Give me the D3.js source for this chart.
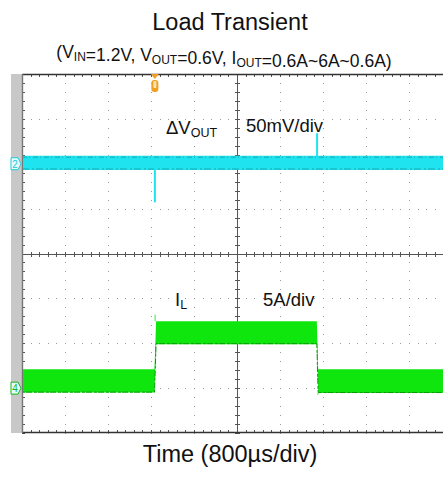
<!DOCTYPE html>
<html>
<head>
<meta charset="utf-8">
<script src="https://cdnjs.cloudflare.com/ajax/libs/d3/7.8.5/d3.min.js"></script>
<style>
  html, body { margin: 0; padding: 0; background: #fff; }
  svg { display: block; font-family: "Liberation Sans", Arial, sans-serif; }
</style>
</head>
<body>
<svg id="chart" width="443" height="478"></svg>
<script>
// Oscilloscope capture: load transient, 10 horizontal x 8 vertical divisions.
const timeDivMs = 0.8;             // 800 µs/div
const voltDivMv = 50;              // CH2: 50 mV/div
const currDivA = 5;                // CH4: 5 A/div
const ch2OffsetDiv = 2;            // CH2 ground marker position (div above centre)
const ch4OffsetDiv = -3;           // CH4 ground marker position

// ΔVOUT noise envelope (mV) and load-step spikes
const voutBandTime = [0, 2.465, 2.475, 8];
const voutBandHigh = [9, 9, 9, 9];
const voutBandLow = [-7, -7, -7, -7];
const voutSpikeTime = [2.472, 5.49];
const voutSpikePeak = [-43, 34];

// Inductor current envelope (A): 0.6 A -> 6 A -> 0.6 A
const ilBandTime = [0, 2.465, 2.495, 5.485, 5.51, 8];
const ilBandHigh = [2.1, 2.1, 7.45, 7.45, 2.1, 2.1];
const ilBandLow = [-0.5, -0.5, 4.9, 4.9, -0.55, -0.55];
const ilSpikeTime = [2.478, 5.505];
const ilSpikePeak = [8.2, -0.75];

const triggerTime = 2.472;

const svg = d3.select("#chart");
const X0 = 22, X1 = 452, Y0 = 74, Y1 = 433;

const x = d3.scaleLinear().domain([0, 10 * timeDivMs]).range([X0, X1]);
const yDiv = d3.scaleLinear().domain([-4, 4]).range([Y1, Y0]);
const yV = d3.scaleLinear()
  .domain([(-4 - ch2OffsetDiv) * voltDivMv, (4 - ch2OffsetDiv) * voltDivMv]).range([Y1, Y0]);
const yI = d3.scaleLinear()
  .domain([(-4 - ch4OffsetDiv) * currDivA, (4 - ch4OffsetDiv) * currDivA]).range([Y1, Y0]);

// Titles
svg.append("text").attr("x", 230).attr("y", 30).attr("text-anchor", "middle")
  .attr("font-size", 23.5).attr("fill", "#111").text("Load Transient");

const sub = svg.append("text").attr("x", 224).attr("y", 58).attr("text-anchor", "middle")
  .attr("font-size", 17.5).attr("fill", "#111");
function addSub(parent, main, subscript) {
  parent.append("tspan").text(main);
  if (subscript) {
    parent.append("tspan").attr("font-size", 12).attr("dy", 3).text(subscript);
    parent.append("tspan").attr("dy", -3).text("");
  }
}
addSub(sub, "(V", "IN");
addSub(sub, "=1.2V, V", "OUT");
addSub(sub, "=0.6V, I", "OUT");
addSub(sub, "=0.6A~6A~0.6A)");

svg.append("text").attr("x", 230).attr("y", 462).attr("text-anchor", "middle")
  .attr("font-size", 23.5).attr("fill", "#111").text("Time (800µs/div)");

// Screen
const screen = svg.append("g");
screen.append("rect").attr("x", 11).attr("y", Y0).attr("width", X0 - 11).attr("height", Y1 - Y0)
  .attr("fill", "#c8c8c8");
screen.append("rect").attr("x", X0).attr("y", Y0).attr("width", 443 - X0).attr("height", Y1 - Y0)
  .attr("fill", "#fff");

const minorX = d3.range(0, 50 * timeDivMs / 5 + 1e-9, timeDivMs / 5).map(v => +v.toFixed(4));
const minorY = d3.range(-4, 4.0001, 0.2).map(v => +v.toFixed(2));
const majorX = d3.range(1, 10).filter(i => i !== 5).map(i => i * timeDivMs);
const majorY = d3.range(-3, 4).filter(j => j !== 0);

// Dotted graticule
const dots = screen.append("g").attr("fill", "#9a9a9a");
majorX.forEach(t => {
  minorY.forEach(d => {
    dots.append("rect").attr("x", Math.round(x(t))).attr("y", Math.round(yDiv(d))).attr("width", 1).attr("height", 1);
  });
});
majorY.forEach(d => {
  minorX.forEach(t => {
    if (x(t) > X0 && x(t) < 443)
      dots.append("rect").attr("x", Math.round(x(t))).attr("y", Math.round(yDiv(d))).attr("width", 1).attr("height", 1);
  });
});

// Centre axes with minor ticks
const axes = screen.append("g").attr("stroke", "#555").attr("stroke-width", 1);
const xc = Math.round(x(5 * timeDivMs)) + 0.5, yc = Math.round(yDiv(0)) + 0.5;
axes.append("line").attr("x1", X0).attr("x2", 443).attr("y1", yc).attr("y2", yc);
axes.append("line").attr("x1", xc).attr("x2", xc).attr("y1", Y0).attr("y2", Y1);
minorX.forEach(t => {
  const px = Math.round(x(t)) + 0.5;
  if (px > X0 && px < 443) {
    axes.append("line").attr("x1", px).attr("x2", px).attr("y1", yc - 2.5).attr("y2", yc + 2.5);
    axes.append("line").attr("x1", px).attr("x2", px).attr("y1", Y0).attr("y2", Y0 + 3);
    axes.append("line").attr("x1", px).attr("x2", px).attr("y1", Y1 - 3).attr("y2", Y1);
  }
});
minorY.forEach(d => {
  const py = Math.round(yDiv(d)) + 0.5;
  axes.append("line").attr("x1", xc - 2.5).attr("x2", xc + 2.5).attr("y1", py).attr("y2", py);
  axes.append("line").attr("x1", X0).attr("x2", X0 + 3).attr("y1", py).attr("y2", py);
});

// Border
const border = screen.append("g").attr("stroke", "#333").attr("stroke-width", 1.4);
border.append("line").attr("x1", X0).attr("x2", 443).attr("y1", Y0 + 0.5).attr("y2", Y0 + 0.5);
border.append("line").attr("x1", X0).attr("x2", 443).attr("y1", Y1 - 0.5).attr("y2", Y1 - 0.5);
border.append("line").attr("x1", X0 + 0.5).attr("x2", X0 + 0.5).attr("y1", Y0).attr("y2", Y1)
  .attr("stroke", "#777");

// Traces
const clip = svg.append("clipPath").attr("id", "scr").append("rect")
  .attr("x", X0 + 1).attr("y", Y0 + 1).attr("width", 443 - X0).attr("height", Y1 - Y0 - 2);
const traces = svg.append("g").attr("clip-path", "url(#scr)");

const vArea = d3.area().x((d, i) => x(voutBandTime[i]))
  .y0((d, i) => yV(voutBandLow[i])).y1((d, i) => yV(voutBandHigh[i]));
traces.append("path").attr("d", vArea(voutBandTime)).attr("fill", "#1fe3ee");
traces.append("path").attr("d", d3.line().x(d => x(d)).y(yV(voutBandHigh[0]) + 1.5)(voutBandTime))
  .attr("stroke", "#15a9b3").attr("stroke-width", 1).attr("stroke-dasharray", "5 2 1 3").attr("fill", "none");
traces.append("path").attr("d", d3.line().x(d => x(d)).y(yV(voutBandLow[0]) - 1)(voutBandTime))
  .attr("stroke", "#15a9b3").attr("stroke-width", 1).attr("stroke-dasharray", "7 3 2 2").attr("fill", "none");
voutSpikeTime.forEach((t, i) => {
  traces.append("line").attr("x1", x(t)).attr("x2", x(t))
    .attr("y1", yV(0)).attr("y2", yV(voutSpikePeak[i]))
    .attr("stroke", "#1fe3ee").attr("stroke-width", 2);
});

const iArea = d3.area().x((d, i) => x(ilBandTime[i]))
  .y0((d, i) => yI(ilBandLow[i])).y1((d, i) => yI(ilBandHigh[i]));
traces.append("path").attr("d", iArea(ilBandTime)).attr("fill", "#0ee60e");
traces.append("path").attr("d", d3.line().x((d, i) => x(d)).y((d, i) => yI(ilBandLow[i]) - 0.5)(ilBandTime))
  .attr("stroke", "#0a9a0a").attr("stroke-width", 1).attr("stroke-dasharray", "3 1 6 2").attr("fill", "none");
ilSpikeTime.forEach((t, i) => {
  const base = i === 0 ? ilBandHigh[2] : ilBandLow[4];
  traces.append("line").attr("x1", x(t)).attr("x2", x(t))
    .attr("y1", yI(base)).attr("y2", yI(ilSpikePeak[i]))
    .attr("stroke", "#7ef07e").attr("stroke-width", 1.5);
});

// Channel markers
function marker(yPos, label, color) {
  const g = svg.append("g");
  g.append("path").attr("d", `M11,${yPos - 6}H18L21,${yPos}L18,${yPos + 6}H11Z`)
    .attr("fill", "#e8fbff").attr("stroke", color).attr("stroke-width", 1);
  g.append("text").attr("x", 15).attr("y", yPos + 4).attr("text-anchor", "middle")
    .attr("font-size", 10).attr("fill", color).text(label);
}
marker(yV(0), "2", "#1ccad6");
marker(yI(0), "4", "#12b812");

// Trigger marker
const tx = x(triggerTime);
const trig = svg.append("g");
trig.append("path").attr("d", `M${tx - 4},${Y0}H${tx + 4}L${tx},${Y0 + 5}Z`).attr("fill", "#f0a020");
trig.append("rect").attr("x", tx - 3.5).attr("y", Y0 + 6).attr("width", 7).attr("height", 12).attr("rx", 3)
  .attr("fill", "#f0a020");
trig.append("rect").attr("x", tx - 1.5).attr("y", Y0 + 7).attr("width", 3).attr("height", 7).attr("rx", 1)
  .attr("fill", "#fde3b0");

// Annotations
const ann = svg.append("g").attr("font-size", 18.5).attr("fill", "#111");
const dv = ann.append("text").attr("x", 166).attr("y", 134);
dv.append("tspan").text("ΔV");
dv.append("tspan").attr("font-size", 12.5).attr("dy", 3).text("OUT");
ann.append("text").attr("x", 246).attr("y", 132).text("50mV/div");
const il = ann.append("text").attr("x", 175).attr("y", 306);
il.append("tspan").text("I");
il.append("tspan").attr("font-size", 12.5).attr("dy", 3).text("L");
ann.append("text").attr("x", 263).attr("y", 306).text("5A/div");
</script>
</body>
</html>
